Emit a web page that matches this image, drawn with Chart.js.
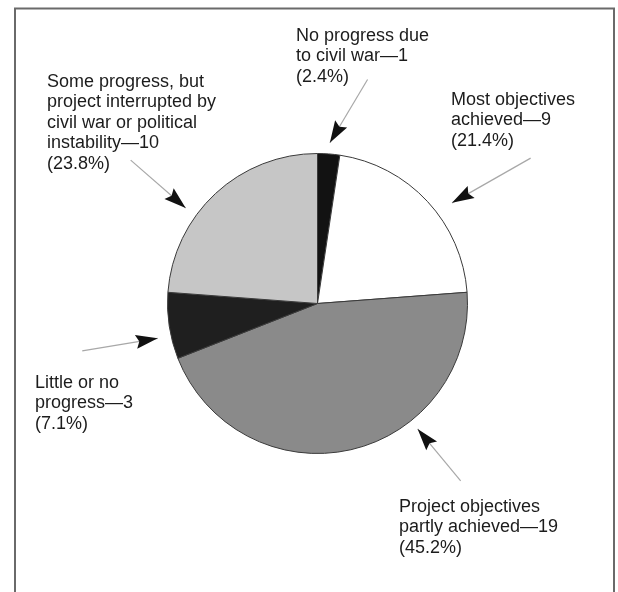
<!DOCTYPE html>
<html>
<head>
<meta charset="utf-8">
<script src="https://cdn.jsdelivr.net/npm/chart.js@4.4.1/dist/chart.umd.min.js"></script>
<style>
  html, body { margin: 0; padding: 0; background: #fff; }
  canvas { display: block; }
</style>
</head>
<body>
<canvas id="pie" width="618" height="592"></canvas>
<script>
// slices, clockwise from 12 o'clock
const categories = [
  'No progress due to civil war',
  'Most objectives achieved',
  'Project objectives partly achieved',
  'Little or no progress',
  'Some progress, but project interrupted by civil war or political instability'
];
const projectCounts = [1, 9, 19, 3, 10];
const sliceColors = ['#121212', '#ffffff', '#8a8a8a', '#1f1f1f', '#c6c6c6'];

// callout layout: arrow tip / tail as (angle from top in degrees, radius factor), text block anchor
const callouts = [
  { tip: [4.4, 1.075], tail: [12.6, 1.53], x: 296, y: 41, wrap: 140 },
  { tip: [53.2, 1.12], tail: [55.7, 1.72], x: 451, y: 105, wrap: 140 },
  { tip: [141.4, 1.07], tail: [141.1, 1.52], x: 399, y: 512, wrap: 165 },
  { tip: [257.7, 1.09], tail: [258.6, 1.6], x: 35, y: 388, wrap: 110 },
  { tip: [305.9, 1.085], tail: [307.5, 1.57], x: 47, y: 87, wrap: 175 }
];

const FONT = '18px "Liberation Sans", Arial, Helvetica, sans-serif';
const LINE_H = 20.4;

function wrapText(ctx, text, maxW) {
  const words = text.split(' ');
  const lines = [];
  let cur = '';
  words.forEach(w => {
    const test = cur ? cur + ' ' + w : w;
    if (cur && ctx.measureText(test).width > maxW) {
      lines.push(cur);
      cur = w;
    } else {
      cur = test;
    }
  });
  if (cur) lines.push(cur);
  return lines;
}

const annotate = {
  id: 'annotate',
  afterDraw(chart) {
    const ctx = chart.ctx;
    const arcs = chart.getDatasetMeta(0).data;
    const total = projectCounts.reduce((a, b) => a + b, 0);
    ctx.save();

    // frame
    ctx.strokeStyle = '#6a6a6a';
    ctx.lineWidth = 2;
    ctx.beginPath();
    ctx.moveTo(15, 592);
    ctx.lineTo(15, 8.5);
    ctx.lineTo(614, 8.5);
    ctx.lineTo(614, 592);
    ctx.stroke();

    ctx.font = FONT;
    ctx.textBaseline = 'alphabetic';
    ctx.textAlign = 'left';

    callouts.forEach((c, i) => {
      const arc = arcs[i];
      const cx = arc.x, cy = arc.y, r = arc.outerRadius;
      const pt = ([deg, k]) => {
        const a = deg * Math.PI / 180;
        return [cx + Math.sin(a) * r * k, cy - Math.cos(a) * r * k];
      };
      const [tx, ty] = pt(c.tip);
      const [sx, sy] = pt(c.tail);

      // arrow shaft
      ctx.strokeStyle = '#a8a8a8';
      ctx.lineWidth = 1.2;
      ctx.beginPath();
      ctx.moveTo(sx, sy);
      ctx.lineTo(tx, ty);
      ctx.stroke();

      // arrow head
      const ang = Math.atan2(ty - sy, tx - sx);
      const len = 22, hw = 7;
      const bx = tx - Math.cos(ang) * len, by = ty - Math.sin(ang) * len;
      ctx.fillStyle = '#111';
      ctx.beginPath();
      ctx.moveTo(tx, ty);
      ctx.lineTo(bx + Math.sin(ang) * hw, by - Math.cos(ang) * hw);
      ctx.lineTo(tx - Math.cos(ang) * len * 0.85, ty - Math.sin(ang) * len * 0.85);
      ctx.lineTo(bx - Math.sin(ang) * hw, by + Math.cos(ang) * hw);
      ctx.closePath();
      ctx.fill();

      // text
      const v = projectCounts[i];
      const pct = (v / total * 100).toFixed(1);
      const lines = wrapText(ctx, categories[i] + '\u2014' + v, c.wrap);
      lines.push('(' + pct + '%)');
      ctx.fillStyle = '#1c1c1c';
      lines.forEach((ln, j) => ctx.fillText(ln, c.x, c.y + j * LINE_H));
    });

    ctx.restore();
  }
};

new Chart(document.getElementById('pie'), {
  type: 'pie',
  data: {
    labels: categories,
    datasets: [{
      data: projectCounts,
      backgroundColor: sliceColors,
      borderColor: '#3a3a3a',
      borderWidth: 1
    }]
  },
  options: {
    responsive: false,
    animation: false,
    layout: {
      padding: { left: 167, right: 150, top: 153, bottom: 138 }
    },
    plugins: {
      legend: { display: false },
      tooltip: { enabled: false }
    }
  },
  plugins: [annotate]
});
</script>
</body>
</html>
